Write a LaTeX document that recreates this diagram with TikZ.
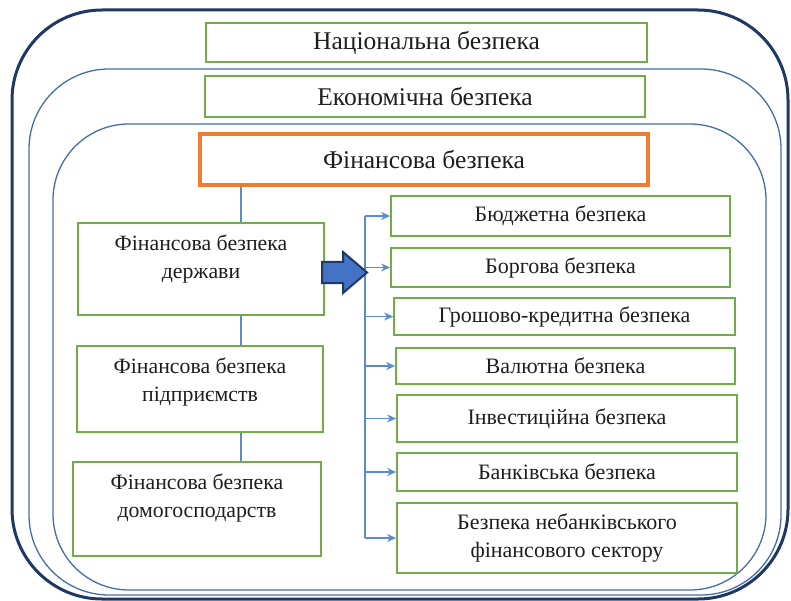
\documentclass[tikz,border=0pt]{standalone}
\usepackage{fontspec}
\setmainfont{Liberation Serif}
\usetikzlibrary{arrows.meta,calc}
\definecolor{navy}{RGB}{31,56,100}
\definecolor{frameblue}{RGB}{70,110,170}
\definecolor{boxgreen}{RGB}{112,173,71}
\definecolor{boxorange}{RGB}{237,125,49}
\definecolor{connblue}{RGB}{91,140,205}
\definecolor{arrfill}{RGB}{68,114,196}
\definecolor{txt}{RGB}{30,30,30}
\begin{document}
\begin{tikzpicture}[x=1pt,y=-1pt,
  gbox/.style={draw=boxgreen,line width=1.8pt,fill=white,inner sep=0pt,text=txt},
  obox/.style={draw=boxorange,line width=3.5pt,fill=white,inner sep=0pt,text=txt},
  topfont/.style={font=\fontsize{25.5}{29}\selectfont},
  leftfont/.style={font=\fontsize{21.8}{27.5}\selectfont},
  rightfont/.style={font=\fontsize{22}{28}\selectfont},
  conn/.style={draw=connblue,line width=1.1pt},
  arr/.style={draw=connblue,line width=1.1pt,-{Stealth[length=9pt,width=8pt]}},
  lbl/.style={anchor=north,align=center,text=txt,inner sep=0pt}]
\useasboundingbox (0,0) rectangle (791,601);
\fill[white] (0,0) rectangle (791,601);
% frames
\draw[navy,line width=3pt,rounded corners=90pt] (12,10) rectangle (788,599);
\draw[frameblue,line width=1.3pt,rounded corners=80pt] (29,69) rectangle (781,595);
\draw[frameblue,line width=1.3pt,rounded corners=76pt] (53,124) rectangle (766,590);
% top boxes
\node[gbox,topfont,minimum width=441pt,minimum height=39pt] (nat) at (426.5,42.5) {Національна безпека};
\node[gbox,topfont,minimum width=440pt,minimum height=41pt] (eco) at (425,96.5) {Економічна безпека};
\node[obox,topfont,minimum width=448pt,minimum height=51pt] (fin) at (424,159.5) {Фінансова безпека};
% left column
\coordinate (vx) at (241,0);
\node[gbox,minimum width=246pt,minimum height=92pt,
  label={[lbl,leftfont,yshift=-13pt]north:Фінансова безпека\\держави}] (st) at (201,269) {};
\node[gbox,minimum width=246pt,minimum height=86pt,
  label={[lbl,leftfont,yshift=-13pt]north:Фінансова безпека\\підприємств}] (en) at (200,389) {};
\node[gbox,minimum width=248pt,minimum height=94pt,
  label={[lbl,leftfont,yshift=-13pt]north:Фінансова безпека\\домогосподарств}] (hh) at (197,509) {};
\draw[conn] (fin.south -| vx) -- (st.north -| vx);
\draw[conn] (st.south -| vx) -- (en.north -| vx);
\draw[conn] (en.south -| vx) -- (hh.north -| vx);
% right column
\node[gbox,rightfont,minimum width=339pt,minimum height=40pt] (b1) at (560.5,216) {Бюджетна безпека};
\node[gbox,rightfont,minimum width=339pt,minimum height=39pt] (b2) at (560.5,267.5) {Боргова безпека};
\node[gbox,rightfont,minimum width=341pt,minimum height=37pt] (b3) at (564.5,316.5) {Грошово-кредитна безпека};
\node[gbox,rightfont,minimum width=339pt,minimum height=36pt] (b4) at (565.5,366) {Валютна безпека};
\node[gbox,rightfont,minimum width=340pt,minimum height=47pt] (b5) at (567,418.5) {Інвестиційна безпека};
\node[gbox,rightfont,minimum width=340pt,minimum height=38pt] (b6) at (567,472) {Банківська безпека};
\node[gbox,rightfont,minimum width=340pt,minimum height=70pt,align=center] (b7) at (567,538) {Безпека небанківського\\фінансового сектору};
\coordinate (tx) at (365,0);
\draw[conn] (b1.west -| tx) -- (b7.west -| tx);
\foreach \b in {b1,b2,b3,b4,b5,b6,b7} {\draw[arr] (\b.west -| tx) -- (\b.west);}
% block arrow
\filldraw[fill=arrfill,draw=navy,line width=2pt,line join=miter]
  (322,262) -- (343,262) -- (343,252) -- (367,272.5) -- (343,293) -- (343,283) -- (322,283) -- cycle;
\end{tikzpicture}
\end{document}
